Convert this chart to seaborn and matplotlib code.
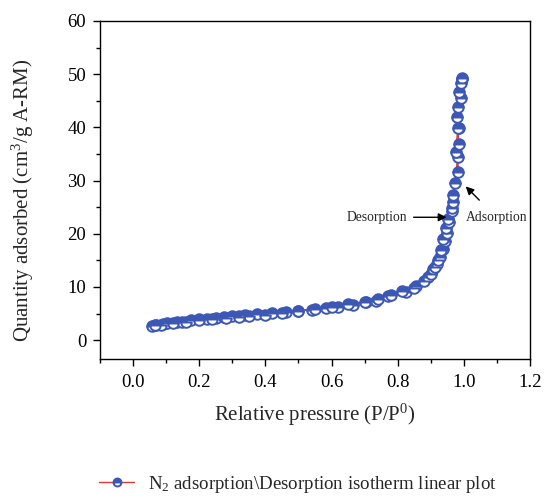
import matplotlib
matplotlib.use("Agg")
import matplotlib.pyplot as plt
import seaborn as sns
import pandas as pd
from matplotlib.ticker import MultipleLocator

# Adsorption branch (P/P0, quantity adsorbed)
ads_p = [0.058, 0.070, 0.091, 0.103, 0.133, 0.148, 0.176, 0.200, 0.224, 0.252, 0.276, 0.300,
         0.321, 0.339, 0.376, 0.421, 0.461, 0.500, 0.542, 0.582, 0.621, 0.664, 0.703, 0.736,
         0.770, 0.824, 0.857, 0.891, 0.906, 0.918, 0.927, 0.936, 0.942, 0.948, 0.955, 0.963,
         0.967, 0.973, 0.982, 0.985, 0.991, 0.994]
ads_q = [2.7, 2.9, 3.0, 3.2, 3.4, 3.5, 3.7, 3.9, 4.0, 4.2, 4.3, 4.5,
         4.6, 4.7, 4.9, 5.1, 5.3, 5.5, 5.7, 6.0, 6.2, 6.6, 7.1, 7.4,
         8.3, 9.0, 10.1, 11.8, 13.3, 14.3, 15.6, 17.1, 18.6, 20.2, 22.3, 24.2,
         25.9, 29.6, 34.5, 39.9, 45.6, 49.1]

# Desorption branch
des_p = [0.995, 0.991, 0.985, 0.982, 0.979, 0.982, 0.976, 0.985, 0.982, 0.967, 0.963, 0.952,
         0.945, 0.938, 0.930, 0.922, 0.912, 0.900, 0.880, 0.850, 0.812, 0.780, 0.740, 0.700,
         0.650, 0.600, 0.550, 0.500, 0.450, 0.400, 0.350, 0.320, 0.280, 0.240, 0.200, 0.160,
         0.120, 0.085, 0.065]
des_q = [49.3, 48.4, 46.7, 43.9, 42.0, 39.9, 35.4, 36.8, 31.7, 27.2, 24.8, 22.8,
         21.0, 19.0, 17.0, 15.0, 13.8, 12.5, 11.2, 9.8, 9.2, 8.5, 7.7, 7.2,
         6.8, 6.3, 5.9, 5.5, 5.1, 4.8, 4.6, 4.4, 4.2, 3.9, 3.7, 3.4,
         3.2, 2.9, 2.8]

x_ticks = [0.0, 0.2, 0.4, 0.6, 0.8, 1.0, 1.2]
y_ticks = [0, 10, 20, 30, 40, 50, 60]

legend_label = "N$_2$ adsorption\\Desorption isotherm linear plot"
x_label = "Relative pressure (P/P$^0$)"
y_label = "Quantity adsorbed (cm$^3$/g A-RM)"

sns.set_style("white")
plt.rcParams["font.family"] = ["Liberation Serif", "DejaVu Serif"]
plt.rcParams["mathtext.fontset"] = "custom"
plt.rcParams["mathtext.rm"] = "Liberation Serif"
plt.rcParams["mathtext.it"] = "Liberation Serif:italic"

df = pd.DataFrame({
    "p": ads_p + des_p,
    "q": ads_q + des_q,
})

fig = plt.figure(figsize=(5.44, 4.99), dpi=100)
ax = fig.add_axes([0.184, 0.281, 0.790, 0.677])

blue = "#3C58B4"
red = "#E23A2E"
sns.lineplot(data=df, x="p", y="q", sort=False, estimator=None, ax=ax,
             color=red, linewidth=1.0, marker="o", markersize=7.6,
             markerfacecolor=blue, markerfacecoloralt="white", fillstyle="top",
             markeredgecolor=blue, markeredgewidth=1.4, label=legend_label,
             legend=False)

ax.set_xlim(-0.1, 1.2)
ax.set_ylim(-3.5, 60)
ax.set_xticks(x_ticks)
ax.set_yticks(y_ticks)
ax.xaxis.set_minor_locator(MultipleLocator(0.1))
ax.yaxis.set_minor_locator(MultipleLocator(5))
ax.set_xticklabels([f"{v:.1f}" for v in x_ticks])
ax.tick_params(which="major", direction="out", length=5, width=1, labelsize=13.5,
               bottom=True, left=True, top=False, right=False, colors="black")
ax.tick_params(axis="x", which="major", pad=6)
ax.tick_params(axis="y", which="major", pad=5)
ax.tick_params(which="minor", direction="out", length=3, width=1,
               bottom=True, left=True, top=False, right=False, colors="black")
for s in ax.spines.values():
    s.set_visible(True)
    s.set_color("black")
    s.set_linewidth(1.0)

ax.set_xlabel(x_label, fontsize=15, labelpad=8)
ax.set_ylabel(y_label, fontsize=15)
ax.yaxis.set_label_coords(-0.15, 0.47)

ax.annotate("Desorption", xy=(0.948, 23.1), xytext=(0.83, 23.1),
            fontsize=9.8, ha="right", va="center",
            arrowprops=dict(arrowstyle="-|>", color="black", lw=1, mutation_scale=12,
                            shrinkA=2, shrinkB=0))
ax.annotate("Adsorption", xy=(1.006, 28.9), xytext=(1.1, 23.0),
            fontsize=9.8, ha="center", va="center",
            arrowprops=dict(arrowstyle="-|>", color="black", lw=1, mutation_scale=12,
                            shrinkA=8, shrinkB=0))

handles = ax.get_lines()[:1]
fig.legend(handles, [legend_label], loc="lower center", bbox_to_anchor=(0.548, -0.026),
           frameon=False, fontsize=13.6, handlelength=1.85, handletextpad=0.74,
           markerscale=0.75)

fig.savefig("out.png", dpi=100)
